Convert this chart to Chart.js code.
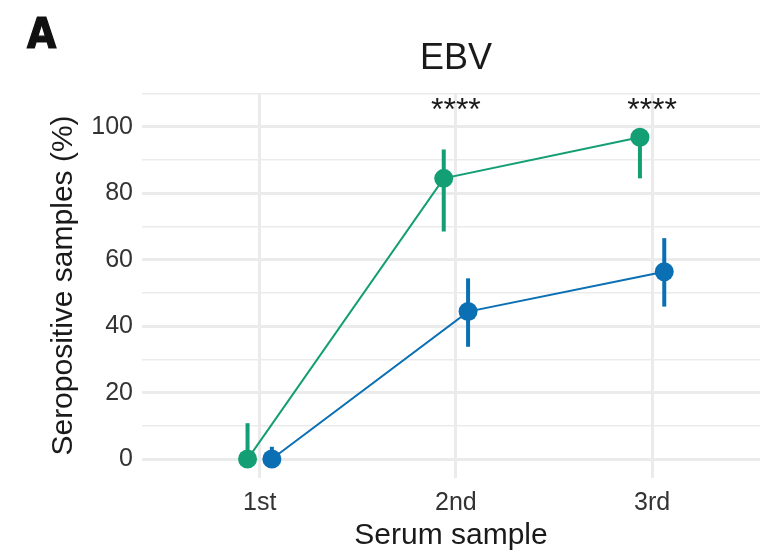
<!DOCTYPE html>
<html>
<head>
<meta charset="utf-8">
<script src="https://cdn.jsdelivr.net/npm/chart.js@4.4.1/dist/chart.umd.min.js"></script>
<style>
  html, body { margin: 0; padding: 0; background: #fff; }
</style>
</head>
<body>
<canvas id="ebvChart" width="772" height="554"></canvas>
<script>
// Data (percent seropositive, with CI bounds)
const categories = ['1st', '2nd', '3rd'];
const greenValues = [0, 84.5, 96.9];
const greenLow = [0, 68.5, 84.5];
const greenHigh = [10.8, 93.2, 99.5];
const blueValues = [0, 44.4, 56.4];
const blueLow = [0, 33.8, 45.9];
const blueHigh = [3.7, 54.4, 66.5];
const significance = ['', '****', '****'];
const yTicks = [0, 10, 20, 30, 40, 50, 60, 70, 80, 90, 100, 110];

const GREEN = '#149e73';
const BLUE = '#0a6fb3';
const FONT = "'Liberation Sans', Arial, Helvetica, sans-serif";
const dodge = 0.062;
const starLevel = 102.2; // where the significance stars sit

const toPoints = (vals, shift) => vals.map((v, i) => ({ x: i + 1 + shift, y: v }));

// vertical error bars drawn under the points
const errorBars = {
  id: 'errorBars',
  beforeDatasetsDraw(chart) {
    const { ctx, scales: { x, y } } = chart;
    ctx.save();
    chart.data.datasets.forEach((ds) => {
      ctx.strokeStyle = ds.borderColor;
      ctx.lineWidth = 4;
      ds.data.forEach((pt, i) => {
        const px = x.getPixelForValue(pt.x);
        ctx.beginPath();
        ctx.moveTo(px, y.getPixelForValue(ds.errLow[i]));
        ctx.lineTo(px, y.getPixelForValue(ds.errHigh[i]));
        ctx.stroke();
      });
    });
    ctx.restore();
  }
};

// panel letter, title and significance stars
const annotations = {
  id: 'annotations',
  afterDraw(chart) {
    const { ctx, scales: { x, y } } = chart;
    ctx.save();
    ctx.fillStyle = '#111';
    ctx.textBaseline = 'alphabetic';
    ctx.textAlign = 'left';
    ctx.font = "bold 42px 'Liberation Sans Narrow', 'DejaVu Sans Condensed', sans-serif";
    ctx.fillText('A', 27, 48);
    ctx.strokeStyle = '#111';
    ctx.lineWidth = 1.2;
    ctx.strokeText('A', 27, 48);

    ctx.fillStyle = '#1a1a1a';
    ctx.textAlign = 'center';
    ctx.font = '36px ' + FONT;
    ctx.fillText('EBV', 456, 69);

    ctx.font = '32px ' + FONT;
    significance.forEach((s, i) => {
      if (!s) return;
      ctx.fillText(s, x.getPixelForValue(i + 1), y.getPixelForValue(starLevel));
    });
    ctx.restore();
  }
};

new Chart(document.getElementById('ebvChart'), {
  type: 'line',
  data: {
    datasets: [
      {
        label: 'Group 1',
        data: toPoints(greenValues, -dodge),
        errLow: greenLow,
        errHigh: greenHigh,
        borderColor: GREEN,
        backgroundColor: GREEN,
        borderWidth: 2,
        pointRadius: 9.5,
        pointHoverRadius: 9.5,
        pointBorderWidth: 0,
        tension: 0
      },
      {
        label: 'Group 2',
        data: toPoints(blueValues, dodge),
        errLow: blueLow,
        errHigh: blueHigh,
        borderColor: BLUE,
        backgroundColor: BLUE,
        borderWidth: 2,
        pointRadius: 9.5,
        pointHoverRadius: 9.5,
        pointBorderWidth: 0,
        tension: 0
      }
    ]
  },
  options: {
    responsive: false,
    animation: false,
    devicePixelRatio: 1,
    layout: { padding: { top: 93, right: 12, bottom: 0, left: 0 } },
    plugins: {
      legend: { display: false },
      title: { display: false },
      tooltip: { enabled: false }
    },
    scales: {
      x: {
        type: 'linear',
        min: 0.4,
        max: 3.55,
        afterBuildTicks: (scale) => { scale.ticks = categories.map((_, i) => ({ value: i + 1 })); },
        afterFit: (scale) => { scale.height = 76; },
        border: { display: false },
        grid: { color: '#ebebeb', lineWidth: 3, drawTicks: false },
        ticks: {
          autoSkip: false,
          maxRotation: 0,
          padding: 10,
          color: '#333',
          font: { family: FONT, size: 25 },
          callback: (v) => categories[v - 1]
        },
        title: {
          display: true,
          text: 'Serum sample',
          color: '#1a1a1a',
          font: { family: FONT, size: 30, lineHeight: 1 },
          padding: { top: 0, bottom: 3 }
        }
      },
      y: {
        min: -5.7,
        max: 110.2,
        afterBuildTicks: (scale) => { scale.ticks = yTicks.map((v) => ({ value: v })); },
        afterFit: (scale) => { scale.width = 142; },
        border: { display: false },
        grid: {
          color: '#ebebeb',
          lineWidth: (c) => (c.tick && c.tick.value % 20 === 0 ? 3 : 1.5),
          drawTicks: false
        },
        ticks: {
          autoSkip: false,
          padding: 9,
          color: '#333',
          font: { family: FONT, size: 25 },
          callback: (v) => (v % 20 === 0 ? v : '')
        },
        title: {
          display: true,
          text: 'Seropositive samples (%)',
          color: '#1a1a1a',
          font: { family: FONT, size: 30, lineHeight: 1 },
          padding: { top: 49, bottom: 0 }
        }
      }
    }
  },
  plugins: [errorBars, annotations]
});
</script>
</body>
</html>
